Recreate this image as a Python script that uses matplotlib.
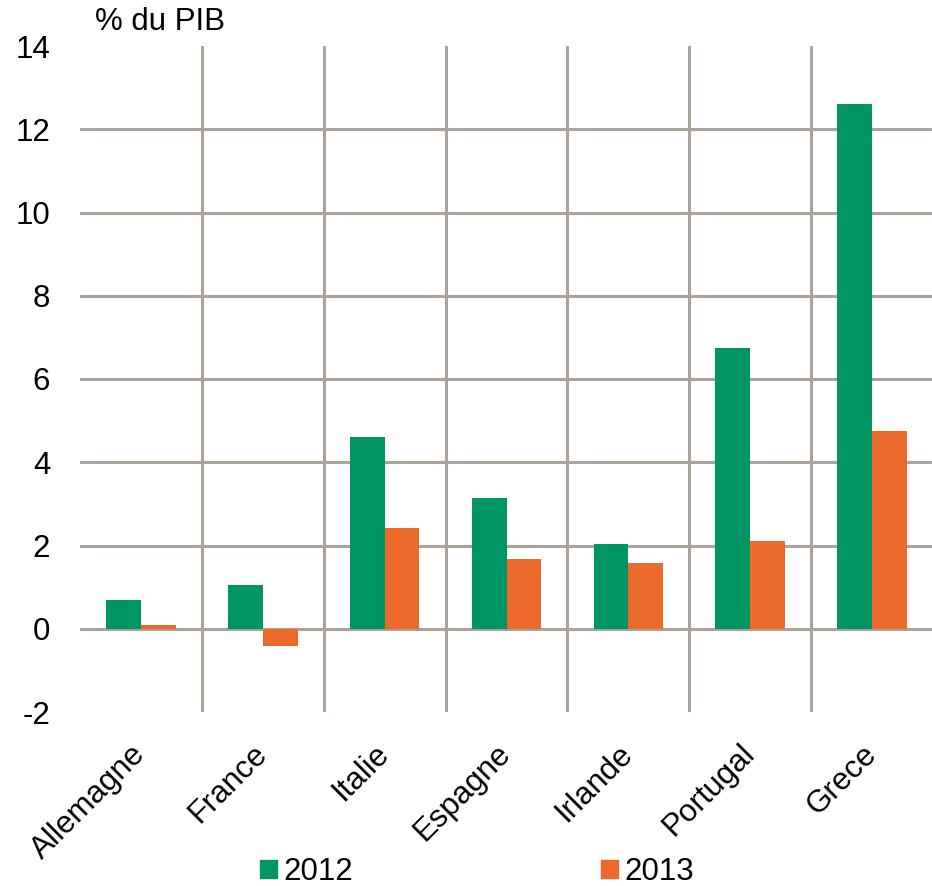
import matplotlib
matplotlib.use("Agg")
import matplotlib.pyplot as plt
from matplotlib.patches import Patch
import numpy as np

plt.rcParams["font.family"] = ["Liberation Sans", "DejaVu Sans"]

# data
countries = ["Allemagne", "France", "Italie", "Espagne", "Irlande", "Portugal", "Grece"]
vals_2012 = [0.69, 1.06, 4.60, 3.15, 2.04, 6.75, 12.61]
vals_2013 = [0.10, -0.42, 2.43, 1.68, 1.59, 2.12, 4.76]
years = ["2012", "2013"]
yticks = [-2, 0, 2, 4, 6, 8, 10, 12, 14]

GREEN = "#009664"
ORANGE = "#EB6A2B"
GRID = "#ABA298"
FS = 22.5

fig = plt.figure(figsize=(9.32, 8.86), dpi=100)
ax = fig.add_axes([80 / 932, 1 - 712 / 886, 853 / 932, (712 - 46) / 886])

x = np.arange(len(countries))
w = 0.285
ax.bar(x - w / 2, vals_2012, width=w, color=GREEN, zorder=3)
ax.bar(x + w / 2, vals_2013, width=w, color=ORANGE, zorder=3)

# grid: horizontal at 0..12, vertical between categories
for y in range(0, 13, 2):
    ax.axhline(y, color=GRID, lw=2.2, zorder=1)
for b in np.arange(0.5, len(countries) - 1, 1):
    ax.axvline(b, color=GRID, lw=2.2, zorder=1)

ax.set_xlim(-0.5, len(countries) - 0.5)
ax.set_ylim(-2, 14)
ax.set_yticks(yticks)
ax.set_yticklabels([str(t) for t in yticks])
ax.set_xticks(x)
ax.set_xticklabels(countries, rotation=45, ha="right", va="center",
                   rotation_mode="anchor")
ax.tick_params(axis="both", length=0, labelsize=FS)
ax.tick_params(axis="y", pad=21.5)
ax.tick_params(axis="x", pad=27)
for s in ax.spines.values():
    s.set_visible(False)

fig.text(95 / 932, 1 - 22 / 886, "% du PIB", fontsize=FS, va="center", ha="left")

handles = [Patch(color=GREEN), Patch(color=ORANGE)]
fig.legend(handles, years, loc="center", bbox_to_anchor=(477 / 932, 1 - 872 / 886),
           ncol=2, frameon=False, fontsize=FS, handlelength=0.55, handleheight=0.55,
           handletextpad=0.22, columnspacing=7.9, borderpad=0, borderaxespad=0)

fig.savefig("out.png", dpi=100)
